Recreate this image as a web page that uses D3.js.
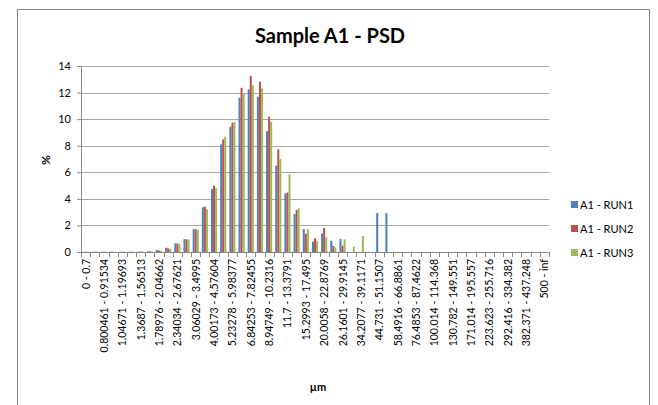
<!DOCTYPE html>
<html>
<head>
<meta charset="utf-8">
<script src="https://cdn.jsdelivr.net/npm/d3@7"></script>
<style>
  body { margin: 0; background: #fff; }
  text { font-family: Lato, "Open Sans", sans-serif; fill: #000; }
</style>
</head>
<body>
<div id="chart"></div>
<script>
// bin labels (µm)
var categories = [
  "0 - 0.7", "0.7 - 0.800461", "0.800461 - 0.91534", "0.91534 - 1.04671",
  "1.04671 - 1.19693", "1.19693 - 1.3687", "1.3687 - 1.56513", "1.56513 - 1.78976",
  "1.78976 - 2.04662", "2.04662 - 2.34034", "2.34034 - 2.67621", "2.67621 - 3.06029",
  "3.06029 - 3.4995", "3.4995 - 4.00173", "4.00173 - 4.57604", "4.57604 - 5.23278",
  "5.23278 - 5.98377", "5.98377 - 6.84253", "6.84253 - 7.82455", "7.82455 - 8.94749",
  "8.94749 - 10.2316", "10.2316 - 11.7", "11.7 - 13.3791", "13.3791 - 15.2993",
  "15.2993 - 17.495", "17.495 - 20.0058", "20.0058 - 22.8769", "22.8769 - 26.1601",
  "26.1601 - 29.9145", "29.9145 - 34.2077", "34.2077 - 39.1171", "39.1171 - 44.731",
  "44.731 - 51.1507", "51.1507 - 58.4916", "58.4916 - 66.8861", "66.8861 - 76.4853",
  "76.4853 - 87.4622", "87.4622 - 100.014", "100.014 - 114.368", "114.368 - 130.782",
  "130.782 - 149.551", "149.551 - 171.014", "171.014 - 195.557", "195.557 - 223.623",
  "223.623 - 255.716", "255.716 - 292.416", "292.416 - 334.382", "334.382 - 382.371",
  "382.371 - 437.248", "437.248 - 500", "500 - inf"
];

var run1 = [0.02, 0.02, 0.02, 0.02, 0.02, 0.02, 0.03, 0.05, 0.15, 0.32, 0.65, 0.96,
  1.72, 3.36, 4.74, 8.1, 9.43, 11.62, 12.24, 11.69, 9.1, 6.5, 4.41, 2.86,
  1.73, 0.78, 1.4, 0.85, 0.98, 0, 0, 0, 2.93, 2.93, 0, 0,
  0, 0, 0, 0, 0, 0, 0, 0, 0, 0, 0, 0, 0, 0, 0];
var run2 = [0.02, 0.02, 0.02, 0.02, 0.02, 0.02, 0.03, 0.05, 0.1, 0.27, 0.65, 0.96,
  1.72, 3.4, 4.99, 8.48, 9.73, 12.36, 13.24, 12.82, 10.18, 7.73, 4.48, 3.16,
  1.37, 1.03, 1.8, 0.45, 0.47, 0, 0, 0, 0, 0, 0, 0,
  0, 0, 0, 0, 0, 0, 0, 0, 0, 0, 0, 0, 0, 0, 0];
var run3 = [0.02, 0.02, 0.02, 0.02, 0.02, 0.02, 0.03, 0.04, 0.1, 0.24, 0.6, 0.94,
  1.65, 3.22, 4.8, 8.68, 9.78, 11.94, 12.56, 12.31, 9.81, 7.0, 5.84, 3.28,
  1.72, 0.85, 1.1, 0.35, 0.95, 0.4, 1.2, 0, 0, 0, 0, 0,
  0, 0, 0, 0, 0, 0, 0, 0, 0, 0, 0, 0, 0, 0, 0];

var seriesNames = ["A1 - RUN1", "A1 - RUN2", "A1 - RUN3"];
var seriesColors = ["#4F81BD", "#C0504D", "#9BBB59"];
var yTicks = [0, 2, 4, 6, 8, 10, 12, 14];

var svgWidth = 658;
var svgHeight = 405;
var margin = { top: 66, right: 109, bottom: 153, left: 81 };
var width = svgWidth - margin.left - margin.right;
var height = svgHeight - margin.top - margin.bottom;

var svg = d3.select("#chart")
  .append("svg")
  .attr("width", svgWidth)
  .attr("height", svgHeight);

// outer frame
svg.append("rect")
  .attr("x", 17.5).attr("y", 9.5)
  .attr("width", 632).attr("height", 400)
  .attr("fill", "none")
  .attr("stroke", "#868686");

var chartGroup = svg.append("g")
  .attr("transform", `translate(${margin.left}, ${margin.top})`);

var series = [run1, run2, run3];
var rows = categories.map((c, i) => ({ cat: c, values: series.map(s => s[i]) }));

var x0 = d3.scaleBand().domain(categories).range([0, width]).paddingInner(0).paddingOuter(0);
// gap width ~150% of a bar
var x1 = d3.scaleBand().domain(d3.range(3))
  .range([x0.bandwidth() * 0.75 / 4.5, x0.bandwidth() - x0.bandwidth() * 0.75 / 4.5]);
var y = d3.scaleLinear().domain([0, 14]).range([height, 0]);

// gridlines
chartGroup.append("g")
  .selectAll("line")
  .data(yTicks.slice(1))
  .enter()
  .append("line")
  .attr("x1", 0).attr("x2", width)
  .attr("y1", d => Math.round(y(d)) + 0.5)
  .attr("y2", d => Math.round(y(d)) + 0.5)
  .attr("stroke", "#a6a6a6");

// bars
var groups = chartGroup.selectAll(".cat")
  .data(rows)
  .enter()
  .append("g")
  .attr("transform", d => `translate(${x0(d.cat)}, 0)`);

groups.selectAll("rect")
  .data(d => d.values)
  .enter()
  .append("rect")
  .attr("x", (d, j) => x1(j))
  .attr("width", x1.bandwidth())
  .attr("y", d => y(d))
  .attr("height", d => height - y(d))
  .attr("fill", (d, j) => seriesColors[j]);

// y axis
var leftAxis = d3.axisLeft(y).tickValues(yTicks).tickSize(4).tickPadding(6);
var yAxis = chartGroup.append("g").call(leftAxis);
yAxis.select(".domain").attr("stroke", "#868686");
yAxis.selectAll(".tick line").attr("stroke", "#868686");
yAxis.selectAll("text").style("font-size", "11px").attr("fill", "#000");

// x axis: ticks at every bin boundary, labels on every other bin
var xg = chartGroup.append("g").attr("transform", `translate(0, ${height})`);
xg.append("line")
  .attr("x1", 0).attr("x2", width)
  .attr("y1", 0.5).attr("y2", 0.5)
  .attr("stroke", "#868686");
xg.selectAll(".btick")
  .data(d3.range(categories.length + 1))
  .enter()
  .append("line")
  .attr("x1", i => Math.round(i * x0.step()) + 0.5)
  .attr("x2", i => Math.round(i * x0.step()) + 0.5)
  .attr("y1", 0).attr("y2", 5)
  .attr("stroke", "#868686");
xg.selectAll(".xlab")
  .data(categories.filter((c, i) => i % 2 === 0))
  .enter()
  .append("text")
  .attr("transform", d => `translate(${x0(d) + x0.bandwidth() / 2 + 4}, 7) rotate(-90)`)
  .attr("text-anchor", "end")
  .style("font-size", "10.5px")
  .text(d => d);

// axis titles
svg.append("text")
  .attr("x", 318).attr("y", 391)
  .attr("text-anchor", "middle")
  .style("font-size", "11px")
  .style("font-weight", "bold")
  .text("µm");

svg.append("text")
  .attr("transform", "translate(50, 160) rotate(-90)")
  .attr("text-anchor", "middle")
  .style("font-size", "12px")
  .style("font-weight", "bold")
  .text("%");

// title
svg.append("text")
  .attr("x", 330).attr("y", 43)
  .attr("text-anchor", "middle")
  .style("font-size", "20px")
  .style("font-weight", "bold")
  .text("Sample A1 - PSD");

// legend
var legend = svg.append("g").attr("transform", "translate(571, 205)");
var items = legend.selectAll("g")
  .data(seriesNames)
  .enter()
  .append("g")
  .attr("transform", (d, i) => `translate(0, ${i * 24})`);
items.append("rect")
  .attr("x", 0).attr("y", -4)
  .attr("width", 7).attr("height", 7)
  .attr("fill", (d, i) => seriesColors[i]);
items.append("text")
  .attr("x", 9).attr("y", 4)
  .style("font-size", "11px")
  .text(d => d);
</script>
</body>
</html>
